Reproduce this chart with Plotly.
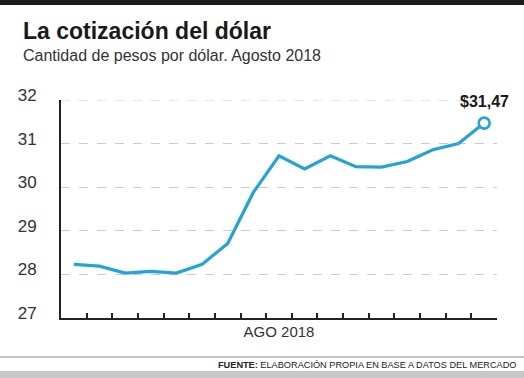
import plotly.graph_objects as go

# Data
days = [str(i) for i in range(1, 18)]
values = [28.23, 28.19, 28.03, 28.07, 28.03, 28.23, 28.71, 29.88, 30.72, 30.42,
          30.72, 30.47, 30.46, 30.59, 30.86, 31.00, 31.47]
y_ticks = [27, 28, 29, 30, 31, 32]
y_tick_labels = ["27", "28", "29", "30", "31", "32"]
last_label = "$31,47"
x_label = "AGO 2018"
title = "La cotización del dólar"
subtitle = "Cantidad de pesos por dólar. Agosto 2018"
source_bold = "FUENTE:"
source_text = "ELABORACIÓN PROPIA EN BASE A DATOS DEL MERCADO"

W, H = 524, 378
L, R, T, B = 61, 27, 100, 60
PW, PH = W - L - R, H - T - B

def px_x(px):
    return (px - L) / PW

def px_y(py):
    return (H - B - py) / PH

BLUE = "#22a3d9"
DARK = "#222222"
FONT = "Liberation Sans, Arial, sans-serif"

fig = go.Figure()
fig.add_trace(go.Scatter(
    x=days, y=values, mode="lines",
    line=dict(color=BLUE, width=3.2), hoverinfo="skip", showlegend=False,
))
fig.add_trace(go.Scatter(
    x=[days[-1]], y=[values[-1]], mode="markers",
    marker=dict(size=11, color="white", line=dict(color=BLUE, width=2.6)),
    hoverinfo="skip", showlegend=False, cliponaxis=False,
))
fig.add_annotation(x=len(values) - 1, y=values[-1], xref="x", yref="y",
                   text=f"<b>{last_label}</b>", showarrow=False,
                   xanchor="center", yanchor="middle", yshift=22,
                   font=dict(family=FONT, size=16, color="#1a1a1a"))

fig.update_layout(
    width=W, height=H,
    margin=dict(l=L, r=R, t=T, b=B, autoexpand=False),
    paper_bgcolor="white", plot_bgcolor="white",
    font=dict(family=FONT, color="#333333"),
    showlegend=False,
    xaxis=dict(
        type="category", range=[-0.5, 16.5],
        showgrid=False, zeroline=False,
        showline=True, linecolor=DARK, linewidth=2,
        ticks="inside", tickson="boundaries", ticklen=5, tickwidth=1.5, tickcolor=DARK,
        showticklabels=False, automargin=False,
        title=dict(text=x_label, font=dict(size=15, color="#333333"), standoff=7),
        fixedrange=True,
    ),
    yaxis=dict(
        range=[27, 32], tickvals=y_ticks, ticktext=y_tick_labels,
        showgrid=True, gridcolor="#cccccc", griddash="dash", gridwidth=1,
        zeroline=False, showline=True, linecolor=DARK, linewidth=2,
        ticks="", tickfont=dict(size=17, color="#333333"),
        ticklabelstandoff=19, ticklabelshift=-5, automargin=False,
        fixedrange=True,
    ),
)

# Top gridline (hidden by plotly at the range edge)
fig.add_shape(type="line", xref="paper", yref="y",
              x0=0, x1=1, y0=y_ticks[-1], y1=y_ticks[-1],
              line=dict(color="#cccccc", width=1, dash="dash"), layer="below")
# Top black bar
fig.add_shape(type="rect", xref="paper", yref="paper",
              x0=px_x(-2), x1=px_x(W + 2), y0=px_y(5), y1=px_y(-2),
              fillcolor="#1c1c1c", line=dict(color="#1c1c1c", width=0), layer="above")
# Bottom separator line
fig.add_shape(type="line", xref="paper", yref="paper",
              x0=px_x(0), x1=px_x(W), y0=px_y(357), y1=px_y(357),
              line=dict(color="#888888", width=1))
# Bottom gray stripe
fig.add_shape(type="rect", xref="paper", yref="paper",
              x0=px_x(0), x1=px_x(W), y0=px_y(378), y1=px_y(371),
              fillcolor="#c8c8c8", line_width=0)

fig.add_annotation(text=f"<b>{title}</b>", xref="paper", yref="paper",
                   x=px_x(21), y=px_y(31), xanchor="left", yanchor="middle",
                   showarrow=False, font=dict(family=FONT, size=23, color="#1a1a1a"))
fig.add_annotation(text=subtitle, xref="paper", yref="paper",
                   x=px_x(21), y=px_y(55), xanchor="left", yanchor="middle",
                   showarrow=False, font=dict(family=FONT, size=16, color="#333333"))
fig.add_annotation(text=f"<b>{source_bold}</b> {source_text}", xref="paper", yref="paper",
                   x=px_x(519), y=px_y(365), xanchor="right", yanchor="middle",
                   showarrow=False, font=dict(family=FONT, size=9.2, color="#222222"))

fig.write_html("out.html", config={"displayModeBar": False},
               post_script="document.body.style.margin='0';document.body.style.padding='0';")
